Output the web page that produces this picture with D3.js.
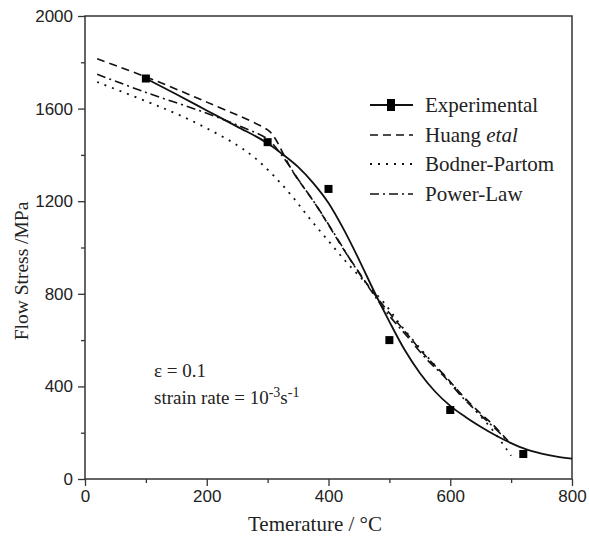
<!DOCTYPE html>
<html><head><meta charset="utf-8">
<script src="https://cdn.jsdelivr.net/npm/d3@7"></script>
<style>body{margin:0;background:#fff}</style>
</head><body>
<svg id="c" width="589" height="536"></svg>
<script>
// Data
const expPoints = [[100,1730],[300,1455],[400,1253],[500,600],[600,298],[720,108]];
const expFit = [[100,1730],[150,1662],[200,1592],[250,1522],[300,1450],[325,1402],[350,1348],[375,1278],[400,1192],[425,1078],[450,948],[475,810],[500,680],[525,558],[550,458],[575,378],[600,316],[625,268],[650,226],[675,188],[700,155],[725,128],[750,110],[775,97],[800,88]];
const huang = [[20,1815],[100,1737],[200,1628],[300,1508],[310,1480],[342,1325],[374,1205],[397,1110],[424,995],[447,905],[468,825],[496,730],[528,630],[561,527],[588,455],[621,358],[649,285],[668,240],[695,165]];
const bodner = [[20,1715],[100,1632],[150,1578],[200,1515],[250,1442],[280,1385],[310,1310],[340,1222],[370,1122],[400,1028],[430,935],[460,850],[490,765],[520,660],[560,535],[600,418],[640,300],[670,210],[700,100]];
const powerLaw = [[20,1748],[100,1670],[200,1580],[260,1518],[300,1468],[325,1392],[350,1295],[380,1182],[410,1058],[440,930],[465,832],[496,718],[528,620],[561,518],[588,448],[621,350],[649,278],[675,215],[692,170]];
const xTicks = [0,200,400,600,800];
const yTicks = [0,400,800,1200,1600,2000];
const legendLabels = ["Experimental","Huang","Bodner-Partom","Power-Law"];

const svg = d3.select("#c");
const x = d3.scaleLinear().domain([0,800]).range([85,572]);
const y = d3.scaleLinear().domain([0,2000]).range([479,16]);

svg.append("rect").attr("x",85).attr("y",16).attr("width",487).attr("height",463)
  .attr("fill","none").attr("stroke","#333").attr("stroke-width",1.5);

const tickFont = "'Liberation Sans', Arial, sans-serif";
const serif = "'Liberation Serif', 'Times New Roman', serif";

const xAx = svg.append("g").attr("transform","translate(0,479)")
  .call(d3.axisBottom(x).tickValues(xTicks).tickSize(7).tickPadding(4).tickFormat(d3.format("d")));
const xMinor = svg.append("g").attr("transform","translate(0,479)")
  .call(d3.axisBottom(x).tickValues([100,300,500,700]).tickSize(4).tickFormat(""));
const yAx = svg.append("g").attr("transform","translate(85,0)")
  .call(d3.axisLeft(y).tickValues(yTicks).tickSize(7).tickPadding(5).tickFormat(d3.format("d")));
const yMinor = svg.append("g").attr("transform","translate(85,0)")
  .call(d3.axisLeft(y).tickValues([200,600,1000,1400,1800]).tickSize(4).tickFormat(""));
[xAx,xMinor,yAx,yMinor].forEach(g=>{
  g.select(".domain").remove();
  g.selectAll("line").attr("stroke","#333").attr("stroke-width",1.3);
  g.selectAll("text").attr("font-family",tickFont).attr("font-size",17).attr("fill","#222");
});

svg.append("text").attr("x",315).attr("y",531).attr("text-anchor","middle")
  .attr("font-family",serif).attr("font-size",21).attr("fill","#222").text("Temerature / °C");
svg.append("text").attr("transform","translate(28,271) rotate(-90)").attr("text-anchor","middle")
  .attr("font-family",serif).attr("font-size",19.5).attr("fill","#222").text("Flow Stress /MPa");

const lineExp = d3.line().x(d=>x(d[0])).y(d=>y(d[1])).curve(d3.curveMonotoneX);
const lineModel = d3.line().x(d=>x(d[0])).y(d=>y(d[1])).curve(d3.curveCatmullRom.alpha(0.5));

const styles = [
  {data:expFit, dash:null, w:1.8, gen:lineExp},
  {data:huang, dash:"8,5", w:1.6, gen:lineModel},
  {data:bodner, dash:"2,6", w:1.8, gen:lineModel},
  {data:powerLaw, dash:"9,4,2,4", w:1.6, gen:lineModel}
];
styles.forEach(s=>{
  svg.append("path").attr("d",s.gen(s.data)).attr("fill","none").attr("stroke","#111")
    .attr("stroke-width",s.w).attr("stroke-dasharray",s.dash);
});

svg.selectAll("rect.pt").data(expPoints).enter().append("rect").attr("class","pt")
  .attr("x",d=>x(d[0])-4).attr("y",d=>y(d[1])-4).attr("width",8).attr("height",8).attr("fill","#000");

const lg = svg.append("g");
const rowsY = [105,135,164,194];
styles.forEach((s,i)=>{
  lg.append("line").attr("x1",370).attr("x2",413).attr("y1",rowsY[i]).attr("y2",rowsY[i])
    .attr("stroke","#111").attr("stroke-width",s.w).attr("stroke-dasharray",s.dash);
  if(i===0) lg.append("rect").attr("x",387).attr("y",rowsY[i]-6).attr("width",8).attr("height",12).attr("fill","#000");
  const t = lg.append("text").attr("x",425).attr("y",rowsY[i]+7).attr("font-family",serif)
    .attr("font-size",21).attr("fill","#222").text(legendLabels[i]);
  if(i===1) t.append("tspan").attr("font-style","italic").text(" etal");
});

svg.append("text").attr("x",154).attr("y",377).attr("font-family",serif).attr("font-size",19).attr("fill","#222").text("ε = 0.1");
const ann = svg.append("text").attr("x",154).attr("y",404).attr("font-family",serif).attr("font-size",19).attr("fill","#222");
ann.append("tspan").text("strain rate = 10");
ann.append("tspan").attr("dy",-7).attr("font-size",14).text("-3");
ann.append("tspan").attr("dy",7).text("s");
ann.append("tspan").attr("dy",-7).attr("font-size",14).text("-1");
</script>
</body></html>
